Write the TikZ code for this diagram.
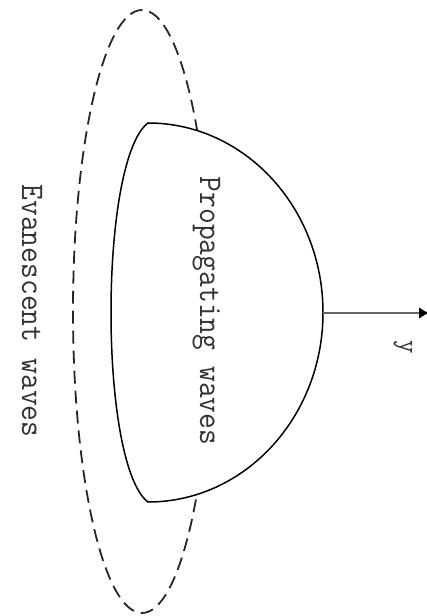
\documentclass[tikz,border=0pt]{standalone}
\usepackage{tikz}
\usetikzlibrary{arrows.meta}

\tikzset{wavelabel/.style={rotate=-90,anchor=base,inner sep=1pt,text=black!80,font=\ttfamily\fontsize{33}{33}\selectfont,xscale=0.93}}

\begin{document}
\begin{tikzpicture}[x=1pt,y=1pt]
\useasboundingbox (0,0) rectangle (427,616);
% evanescent region
\draw[black!85,line width=1.8pt,dash pattern=on 13pt off 7pt] (142,304.5) ellipse [x radius=69, y radius=301.5];
% propagating region
\filldraw[fill=white,line width=1.5pt] (148,493) arc [start angle=90, end angle=-90, x radius=175, y radius=189.5]
  .. controls (125,131) and (111,211) .. (111,303.5) .. controls (111,396) and (125,476) .. cycle;
\coordinate (apex) at (323,303);
\coordinate (tip) at (429,303);
\draw[black!60,line width=2pt,-{Latex[length=10pt,width=12pt,black]}] (apex) -- (tip);
\node[wavelabel] (prop) at (200,305) {Propagating waves};
\node[wavelabel] (evan) at (22,305) {Evanescent waves};
\node[wavelabel,font=\ttfamily\fontsize{28}{28}\selectfont] (ylab) at (400,269) {y};
\end{tikzpicture}
\end{document}
